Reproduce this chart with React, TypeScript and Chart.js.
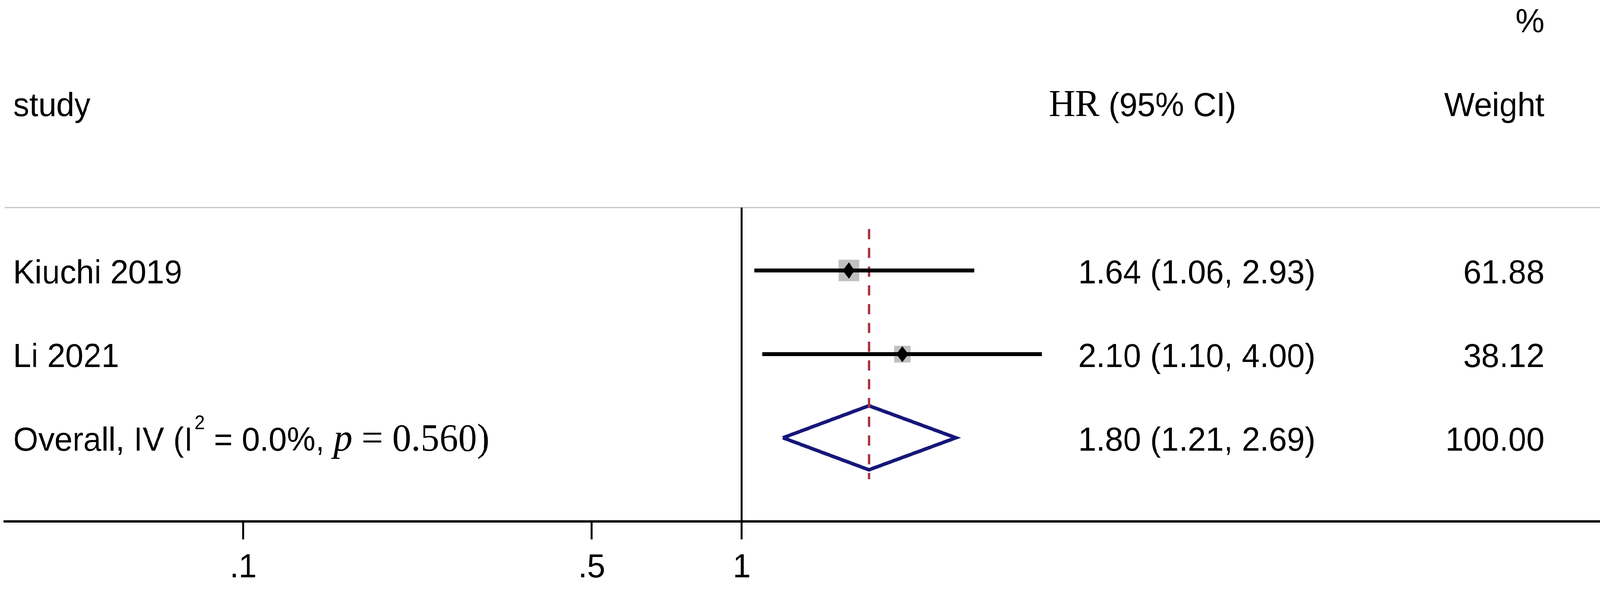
import { useEffect, useRef } from "react";
import { Chart, registerables } from "chart.js";

Chart.register(...registerables);

// study rows
const STUDIES = ["Kiuchi 2019", "Li 2021"];
const STUDY_ROWS = [1, 2];
const HR = [1.64, 2.1];
const CI_LOW = [1.06, 1.1];
const CI_HIGH = [2.93, 4.0];
const WEIGHTS = [61.88, 38.12];

// pooled estimate
const OVERALL_ROW = 3;
const OVERALL_HR = 1.8;
const OVERALL_LOW = 1.21;
const OVERALL_HIGH = 2.69;
const OVERALL_WEIGHT = 100.0;
const I2 = "0.0%";
const P_VALUE = "0.560";

// axis
const TICK_VALUES = [0.1, 0.5, 1];
const TICK_LABELS = [".1", ".5", "1"];
const X_MIN = 0.0332;
const X_MAX = 52.7;
const Y_MIN = -2.234;
const Y_MAX = 4;
const SEP_ROW = 0.248;

// drawing size the layout is laid out on
const W = 4253;
const H = 1512;

const SANS = '"Liberation Sans", Arial, sans-serif';
const SERIF = '"Liberation Serif", "Times New Roman", serif';

const fmt = (v: number) => v.toFixed(2);

function makeDiamond(): HTMLCanvasElement {
  const c = document.createElement("canvas");
  c.width = 32;
  c.height = 42;
  const g = c.getContext("2d")!;
  g.fillStyle = "#000";
  g.beginPath();
  g.moveTo(16, 0);
  g.lineTo(32, 21);
  g.lineTo(16, 42);
  g.lineTo(0, 21);
  g.closePath();
  g.fill();
  return c;
}

const textPlugin = {
  id: "forestText",
  afterDraw(chart: any) {
    const ctx: CanvasRenderingContext2D = chart.ctx;
    const y = chart.scales.y;
    const base = (row: number) => y.getPixelForValue(row) + 33;
    const labelX = 35;
    const estRight = 3497;
    const weightRight = 4105;

    ctx.save();
    ctx.fillStyle = "#000";
    ctx.textBaseline = "alphabetic";

    // headers
    ctx.font = `86px ${SANS}`;
    ctx.textAlign = "right";
    ctx.fillText("%", weightRight, base(-2));
    ctx.fillText("Weight", weightRight, base(-1));
    ctx.textAlign = "left";
    ctx.fillText("study", labelX, base(-1));
    ctx.font = `97px ${SERIF}`;
    ctx.fillText("HR", 2788, base(-1));
    const hrW = ctx.measureText("HR").width;
    ctx.font = `86px ${SANS}`;
    ctx.fillText(" (95% CI)", 2788 + hrW, base(-1));

    // study rows
    STUDIES.forEach((s, i) => {
      const b = base(STUDY_ROWS[i]);
      ctx.font = `86px ${SANS}`;
      ctx.textAlign = "left";
      ctx.fillText(s, labelX, b);
      ctx.textAlign = "right";
      ctx.fillText(`${fmt(HR[i])} (${fmt(CI_LOW[i])}, ${fmt(CI_HIGH[i])})`, estRight, b);
      ctx.fillText(fmt(WEIGHTS[i]), weightRight, b);
    });

    // overall row
    const ob = base(OVERALL_ROW);
    ctx.textAlign = "right";
    ctx.font = `86px ${SANS}`;
    ctx.fillText(`${fmt(OVERALL_HR)} (${fmt(OVERALL_LOW)}, ${fmt(OVERALL_HIGH)})`, estRight, ob);
    ctx.fillText(fmt(OVERALL_WEIGHT), weightRight, ob);

    ctx.textAlign = "left";
    let x = labelX;
    const put = (t: string, font: string, dy = 0) => {
      ctx.font = font;
      ctx.fillText(t, x, ob + dy);
      x += ctx.measureText(t).width;
    };
    put("Overall, IV (I", `86px ${SANS}`);
    x += 4;
    put("2", `50px ${SANS}`, -55);
    put(` = ${I2}, `, `86px ${SANS}`);
    put("p", `italic 100px ${SERIF}`);
    put(` = ${P_VALUE})`, `100px ${SERIF}`);
    ctx.restore();
  },
};

export default function App() {
  const canvasRef = useRef<HTMLCanvasElement>(null);
  const chartRef = useRef<Chart | null>(null);

  useEffect(() => {
    if (!canvasRef.current) return;
    if (chartRef.current) chartRef.current.destroy();
    document.body.style.overflow = "hidden";

    const diamondImg = makeDiamond();
    const HALF = 0.383; // half height of pooled diamond in rows

    const ciSets = STUDIES.map((s, i) => ({
      label: s + " CI",
      data: [
        { x: CI_LOW[i], y: STUDY_ROWS[i] },
        { x: CI_HIGH[i], y: STUDY_ROWS[i] },
      ],
      showLine: true,
      borderColor: "#000",
      borderWidth: 10,
      pointRadius: 0,
      order: 1,
    }));

    chartRef.current = new Chart(canvasRef.current, {
      type: "scatter",
      data: {
        datasets: [
          {
            label: "point",
            data: HR.map((v, i) => ({ x: v, y: STUDY_ROWS[i] })),
            pointStyle: diamondImg,
            pointRadius: 16,
            order: 0,
          },
          ...ciSets,
          {
            label: "weight box",
            data: HR.map((v, i) => ({ x: v, y: STUDY_ROWS[i] })),
            pointStyle: "rect",
            pointRadius: WEIGHTS.map((w) => 4.94 * Math.sqrt(w)),
            backgroundColor: "#c0c0c0",
            borderWidth: 0,
            order: 2,
          },
          {
            label: "overall line",
            data: [
              { x: OVERALL_HR, y: 0.505 },
              { x: OVERALL_HR, y: 3.495 },
            ],
            showLine: true,
            borderColor: "#a8343f",
            borderWidth: 6,
            borderDash: [26, 22],
            pointRadius: 0,
            order: 3,
          },
          {
            label: "overall",
            data: [
              { x: OVERALL_LOW, y: OVERALL_ROW },
              { x: OVERALL_HR, y: OVERALL_ROW - HALF },
              { x: OVERALL_HIGH, y: OVERALL_ROW },
              { x: OVERALL_HR, y: OVERALL_ROW + HALF },
              { x: OVERALL_LOW, y: OVERALL_ROW },
            ],
            showLine: true,
            borderColor: "#16167a",
            borderWidth: 9,
            borderJoinStyle: "miter",
            pointRadius: 0,
            order: 4,
          },
          {
            label: "null",
            data: [
              { x: 1, y: SEP_ROW },
              { x: 1, y: Y_MAX },
            ],
            showLine: true,
            borderColor: "#000",
            borderWidth: 5,
            pointRadius: 0,
            order: 5,
          },
          {
            label: "separator",
            data: [
              { x: X_MIN, y: SEP_ROW },
              { x: X_MAX, y: SEP_ROW },
            ],
            showLine: true,
            borderColor: "#c4c4c4",
            borderWidth: 3,
            pointRadius: 0,
            order: 6,
          },
        ] as any,
      },
      options: {
        animation: false,
        responsive: true,
        maintainAspectRatio: false,
        devicePixelRatio: 1,
        layout: { autoPadding: false, padding: { left: 12, right: 0, top: 0, bottom: 0 } },
        plugins: {
          legend: { display: false },
          tooltip: { enabled: false },
        },
        scales: {
          x: {
            type: "logarithmic",
            min: X_MIN,
            max: X_MAX,
            bounds: "data",
            afterBuildTicks: (scale: any) => {
              scale.ticks = TICK_VALUES.map((v) => ({ value: v }));
            },
            afterFit: (scale: any) => {
              scale.height = 178;
            },
            ticks: {
              autoSkip: false,
              maxRotation: 0,
              minRotation: 0,
              padding: 30,
              color: "#000",
              font: { family: SANS, size: 86, lineHeight: 1 },
              callback: (_v: any, i: number) => TICK_LABELS[i],
            },
            grid: {
              drawOnChartArea: false,
              drawTicks: true,
              tickLength: 46,
              tickWidth: 5,
              tickColor: "#000",
              color: "#000",
            },
            border: { display: true, color: "#000", width: 6 },
          },
          y: {
            type: "linear",
            display: false,
            reverse: true,
            min: Y_MIN,
            max: Y_MAX,
            bounds: "data",
          },
        },
      } as any,
      plugins: [textPlugin],
    });

    return () => {
      if (chartRef.current) {
        chartRef.current.destroy();
        chartRef.current = null;
      }
    };
  }, []);

  // the window may be narrower than the reference; squeeze the drawing to fit
  const sx = Math.min(1, window.innerWidth / W);
  const sy = Math.min(1, window.innerHeight / H);

  return (
    <div
      style={{
        position: "fixed",
        left: 0,
        top: 0,
        width: W + "px",
        height: H + "px",
        background: "#fff",
        transform: `scale(${sx}, ${sy})`,
        transformOrigin: "0 0",
      }}
    >
      <canvas ref={canvasRef} />
    </div>
  );
}
